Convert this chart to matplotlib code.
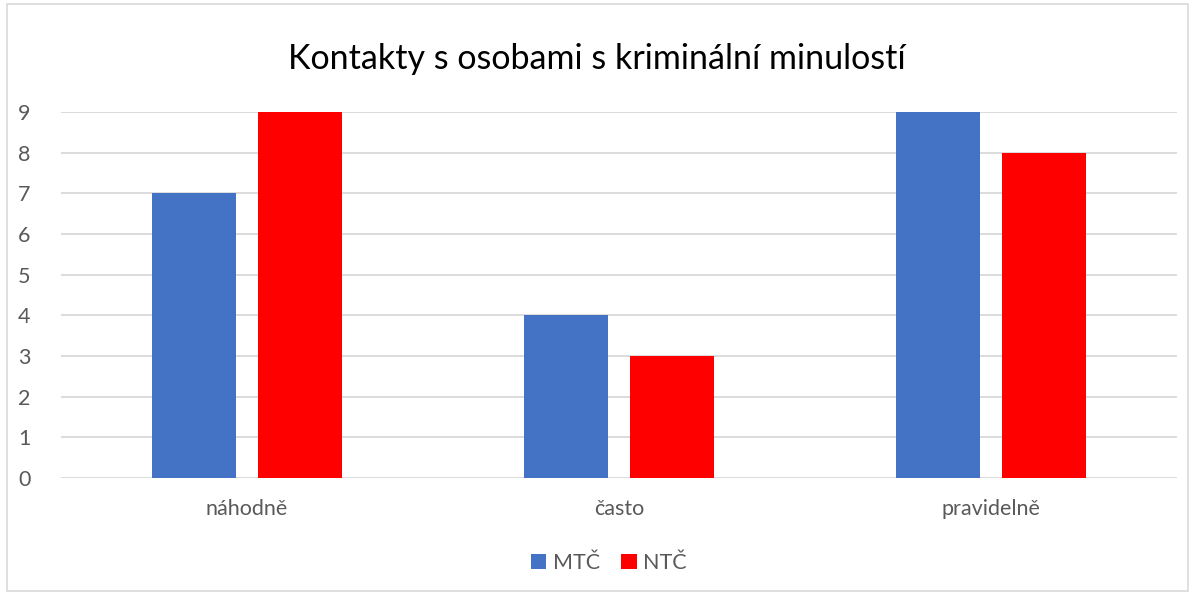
import numpy as np
import matplotlib.pyplot as plt
from matplotlib.patches import Rectangle

categories = ['náhodně', 'často', 'pravidelně']
mtc = [7, 4, 9]
ntc = [9, 3, 8]
series_names = ['MTČ', 'NTČ']
yticks = [0, 1, 2, 3, 4, 5, 6, 7, 8, 9]

plt.rcParams['font.family'] = ['Lato', 'DejaVu Sans']
txt = '#595959'

fig = plt.figure(figsize=(11.94, 5.93), dpi=100)
ax = fig.add_axes([0.0511, 0.1939, 0.9347, 0.6172])

x = np.arange(len(categories))
w = 0.226
off = 0.1417
ax.bar(x - off, mtc, w, color='#4472C4', label=series_names[0], zorder=3)
ax.bar(x + off, ntc, w, color='#FF0000', label=series_names[1], zorder=3)

ax.set_xlim(-0.5, 2.5)
ax.set_ylim(0, 9)
ax.set_yticks(yticks)
ax.set_xticks(x)
ax.set_xticklabels(categories)
ax.grid(axis='y', color='#D9D9D9', linewidth=1.3, zorder=0)
for s in ax.spines.values():
    s.set_visible(False)
ax.tick_params(length=0, labelsize=15.5, colors=txt)
ax.tick_params(axis='y', pad=22)
ax.tick_params(axis='x', pad=15)

fig.text(0.5, 0.9, 'Kontakty s osobami s kriminální minulostí', ha='center', va='center',
         fontsize=24.5, color='black')

fig.legend(loc='center', bbox_to_anchor=(0.51, 0.051), ncol=2, frameon=False,
           fontsize=15.5, handlelength=0.7, handleheight=0.7, handletextpad=0.3,
           columnspacing=1.0, labelcolor=txt)

fig.patches.append(Rectangle((0.006, 0.004), 0.989, 0.99, transform=fig.transFigure,
                             fill=False, edgecolor='#D9D9D9', linewidth=1.2))

fig.savefig('out.png', dpi=100)
